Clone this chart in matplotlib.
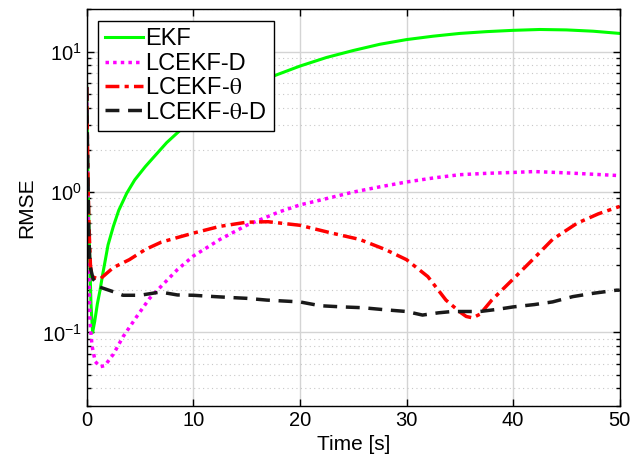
import math
import matplotlib
matplotlib.use("Agg")
import matplotlib.pyplot as plt
from matplotlib.ticker import FixedLocator, FuncFormatter, LogLocator, NullFormatter

plt.rcParams['font.family'] = ['Liberation Sans', 'DejaVu Sans']
plt.rcParams['mathtext.fontset'] = 'stix'

# ---- data ----
t_ekf = [0, 0.1, 0.2, 0.3, 0.4, 0.55, 0.75, 1.0, 1.25, 1.5, 1.75, 2.0, 2.5, 3.0, 3.75,
         4.5, 5.5, 6.5, 7.5, 8.75, 10, 12.5, 15, 17.5, 20, 22.5, 25, 27.5, 30, 32.5, 35,
         37.5, 40, 42.5, 45, 47.5, 50]
rmse_ekf = [5.6, 1.5, 0.6, 0.3, 0.16, 0.1, 0.12, 0.16, 0.2, 0.26, 0.33, 0.42, 0.57, 0.74,
            0.98, 1.22, 1.52, 1.85, 2.25, 2.75, 3.2, 4.2, 5.4, 6.7, 7.9, 9.1, 10.2, 11.3,
            12.2, 12.9, 13.5, 13.9, 14.2, 14.4, 14.3, 14.0, 13.5]

t_d = [0, 0.1, 0.2, 0.3, 0.5, 0.8, 1.25, 1.7, 2.5, 3.4, 4.7, 5.9, 6.9, 8.5, 10, 12.5, 15,
       18, 20, 22, 25, 27.5, 30, 32.5, 35, 37.5, 40, 42, 45, 47.5, 50]
rmse_d = [5.6, 1.0, 0.3, 0.12, 0.08, 0.062, 0.057, 0.058, 0.07, 0.093, 0.13, 0.175, 0.21, 0.28,
          0.35, 0.46, 0.58, 0.72, 0.81, 0.88, 1.0, 1.09, 1.18, 1.26, 1.33, 1.36, 1.38, 1.40,
          1.37, 1.34, 1.31]

t_th = [0, 0.1, 0.2, 0.35, 0.5, 0.8, 1.25, 2.5, 4.0, 5.5, 7.0, 8.75, 10, 12.5, 15, 17, 20,
        23, 25.6, 28, 30, 32, 33.7, 35, 35.6, 36.2, 36.9, 38, 40, 42, 43.7, 46, 48, 50]
rmse_th = [5.6, 1.5, 0.6, 0.3, 0.25, 0.245, 0.24, 0.29, 0.33, 0.39, 0.44, 0.48, 0.51, 0.57,
           0.61, 0.615, 0.58, 0.51, 0.46, 0.39, 0.33, 0.25, 0.17, 0.14, 0.13, 0.127, 0.135,
           0.17, 0.24, 0.34, 0.46, 0.6, 0.7, 0.79]

t_thd = [0, 0.1, 0.2, 0.3, 0.6, 1.25, 2.5, 3.4, 5, 6.9, 8.5, 10, 12, 13.7, 15, 16.9, 20,
         21.9, 24, 25.9, 28, 30, 31.5, 33, 34.3, 36.9, 38.5, 40, 42, 43.7, 45.6, 47.5, 49.7, 50]
rmse_thd = [5.6, 1.5, 0.5, 0.3, 0.24, 0.21, 0.195, 0.184, 0.184, 0.194, 0.185, 0.184, 0.18,
            0.177, 0.175, 0.17, 0.165, 0.155, 0.152, 0.15, 0.145, 0.141, 0.133, 0.138, 0.141,
            0.141, 0.146, 0.152, 0.158, 0.165, 0.18, 0.19, 0.2, 0.2]

labels = ['EKF', 'LCEKF-D', r'LCEKF-$\mathrm{\theta}$', r'LCEKF-$\mathrm{\theta}$-D']
x_ticks = [0, 10, 20, 30, 40, 50]
y_ticks = [0.1, 1, 10]

# ---- figure ----
fig = plt.figure(figsize=(6.33, 4.73), dpi=100)
ax = fig.add_axes([0.137, 0.142, 0.842, 0.838])

ax.plot(t_ekf, rmse_ekf, color='#00ff00', lw=2.2, ls='-', label=labels[0])
ax.plot(t_d, rmse_d, color='#ff00ff', lw=2.5, ls=(0, (1, 1.2)), label=labels[1])
ax.plot(t_th, rmse_th, color='#ff0000', lw=2.5, ls=(0, (4, 1.5, 1.2, 1.5)), label=labels[2])
ax.plot(t_thd, rmse_thd, color='#1a1a1a', lw=2.5, ls=(0, (4, 2.5)), label=labels[3])

ax.set_yscale('log')
ax.set_xlim(0, 50)
ax.set_ylim(0.03, 20)
ax.xaxis.set_major_locator(FixedLocator(x_ticks))
ax.yaxis.set_major_locator(FixedLocator(y_ticks))
ax.yaxis.set_minor_locator(LogLocator(base=10, subs=range(2, 10)))
ax.yaxis.set_minor_formatter(NullFormatter())
ax.yaxis.set_major_formatter(FuncFormatter(
    lambda v, p: r'$\mathregular{10^{%d}}$' % round(math.log10(v))))

ax.grid(True, which='major', color='#d4d4d4', lw=1.0, ls='-')
ax.grid(True, which='minor', axis='y', color='#c8c8c8', lw=0.8, ls=(0, (1, 3)))
ax.set_axisbelow(True)

ax.tick_params(which='both', direction='in', top=True, right=True, labelsize=14.5,
               width=1.0, color='black')
ax.tick_params(which='major', length=5)
ax.tick_params(which='minor', length=3)
for s in ax.spines.values():
    s.set_linewidth(1.0)
    s.set_color('black')

ax.set_xlabel('Time [s]', fontsize=15)
ax.set_ylabel('RMSE', fontsize=15)

leg = ax.legend(loc='upper left', bbox_to_anchor=(0.021, 0.970), borderaxespad=0,
                fontsize=17, handlelength=1.6, handletextpad=0.1, labelspacing=0.1,
                borderpad=0.3, frameon=True, fancybox=False, framealpha=1,
                edgecolor='black')
leg.get_frame().set_linewidth(1.0)

fig.savefig('out.png', dpi=100)
